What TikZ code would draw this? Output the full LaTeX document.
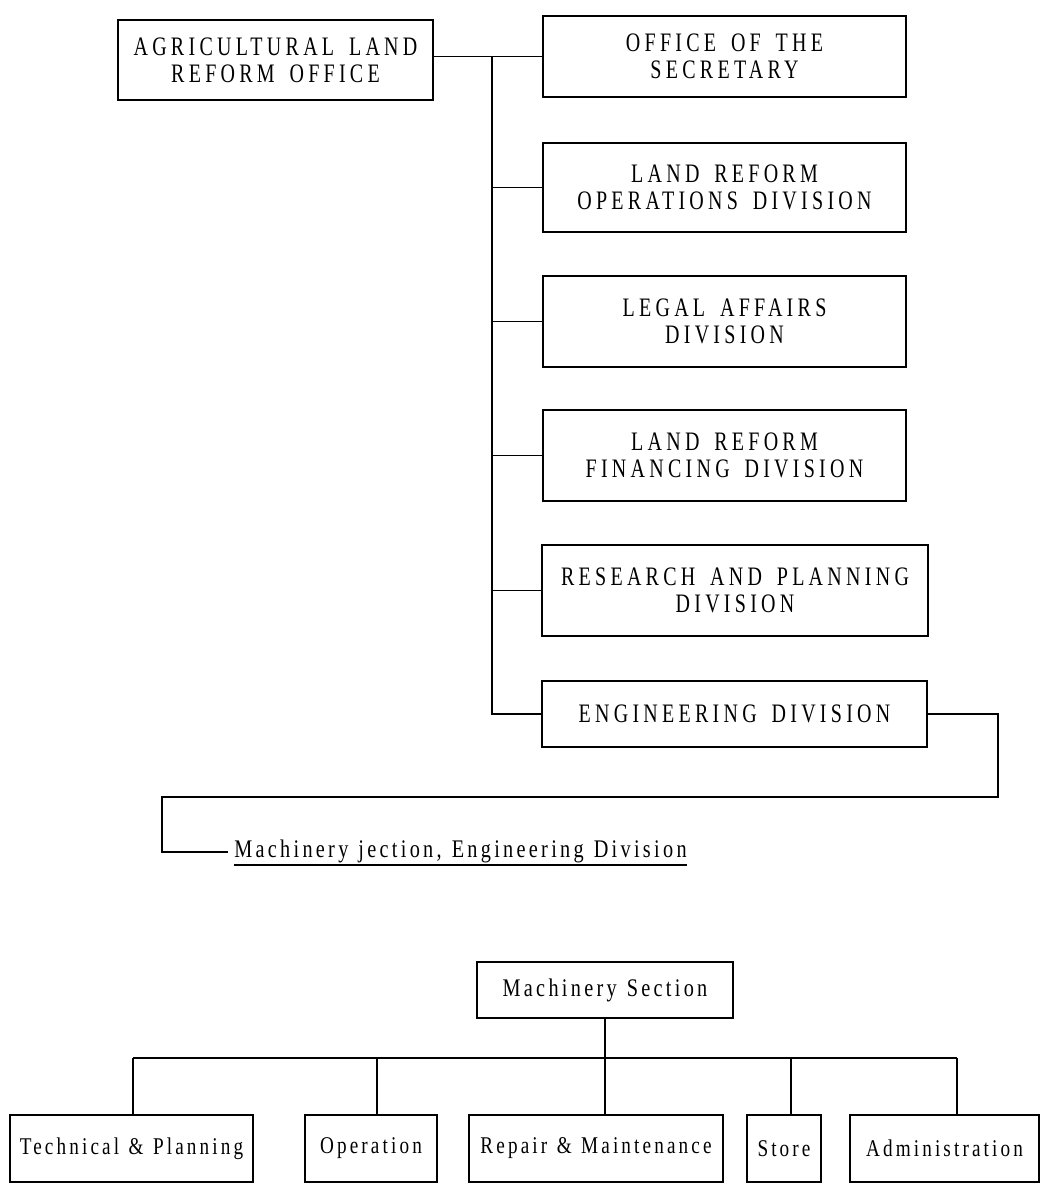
\documentclass[tikz,border=0pt]{standalone}
\usepackage{fontspec}
\setmainfont{Liberation Serif}[FakeStretch=0.8,LetterSpace=13,WordSpace=1.2]
\newfontfamily\capsf{Liberation Serif}[FakeStretch=0.75,LetterSpace=16,WordSpace=1.6]
\begin{document}
\begin{tikzpicture}[x=0.75pt,y=-0.75pt,
  box/.style={draw,line width=1pt,rectangle,inner sep=0pt,align=center},
  capbox/.style={box,font=\capsf\fontsize{20pt}{20pt}\selectfont},
  lowbox/.style={box,font=\fontsize{19pt}{20pt}\selectfont},
  botbox/.style={box,font=\fontsize{18pt}{19pt}\selectfont,minimum height=50.25pt},
  wire/.style={line width=1pt}]
\useasboundingbox[fill=white] (0,0) rectangle (1045,1187);
% top hierarchy
\node[capbox,minimum width=236.25pt,minimum height=60pt] (agri) at (275.5,60) {AGRICULTURAL LAND\\REFORM OFFICE};
\node[capbox,minimum width=272.25pt,minimum height=60.75pt] (sec) at (724.5,56.5) {OFFICE OF THE\\SECRETARY};
\node[capbox,minimum width=272.25pt,minimum height=66.75pt] (ops) at (724.5,187.5) {LAND REFORM\\OPERATIONS DIVISION};
\node[capbox,minimum width=272.25pt,minimum height=68.25pt] (legal) at (724.5,321.5) {LEGAL AFFAIRS\\DIVISION};
\node[capbox,minimum width=272.25pt,minimum height=68.25pt] (fin) at (724.5,455.5) {LAND REFORM\\FINANCING DIVISION};
\node[capbox,minimum width=289.5pt,minimum height=68.25pt] (res) at (735,590.5) {RESEARCH AND PLANNING\\DIVISION};
\node[capbox,minimum width=288.75pt,minimum height=49.5pt] (eng) at (734.5,714) {ENGINEERING DIVISION};
\coordinate (ttop) at (492,56.5);
\coordinate (tbot) at (492,714);
\draw[wire] (agri.east |- sec.west) -- (sec.west);
\draw[wire] (ttop) -- (tbot) -- (eng.west);
\foreach \b in {ops,legal,fin,res}
  \draw[wire] (ttop |- \b.west) -- (\b.west);
% link to machinery label
\coordinate (r1) at (998,714);
\coordinate (r2) at (998,797);
\coordinate (r3) at (162,797);
\coordinate (r4) at (162,852);
\coordinate (r5) at (228,852);
\draw[wire] (eng.east) -- (r1) -- (r2) -- (r3) -- (r4) -- (r5);
\node[anchor=base west,inner sep=0pt,font=\fontsize{19pt}{20pt}\selectfont] (lbl) at (234,857) {Machinery jection, Engineering Division};
\draw[wire] ([yshift=-6pt]lbl.base west) -- ([yshift=-6pt]lbl.base east);
% machinery section
\node[lowbox,minimum width=192pt,minimum height=42pt] (mach) at (605,990) {Machinery Section};
\node[botbox,minimum width=182.25pt] (tech) at (131.5,1148.5) {Technical \& Planning};
\node[botbox,minimum width=99pt] (oper) at (371,1148.5) {Operation};
\node[botbox,minimum width=190.5pt] (rep) at (596,1148.5) {Repair \& Maintenance};
\node[botbox,minimum width=55.5pt] (store) at (784,1148.5) {Store};
\node[botbox,minimum width=141.75pt] (adm) at (944.5,1148.5) {Administration};
\coordinate (bl) at (133,1058);
\coordinate (br) at (957,1058);
\coordinate (bm) at (605,1058);
\coordinate (b2) at (377,1058);
\coordinate (b4) at (791,1058);
\draw[wire] (mach.south) -- (bm);
\draw[wire] (bl) -- (br);
\draw[wire] (bl) -- (bl |- tech.north);
\draw[wire] (b2) -- (b2 |- oper.north);
\draw[wire] (bm) -- (bm |- rep.north);
\draw[wire] (b4) -- (b4 |- store.north);
\draw[wire] (br) -- (br |- adm.north);
\end{tikzpicture}
\end{document}
